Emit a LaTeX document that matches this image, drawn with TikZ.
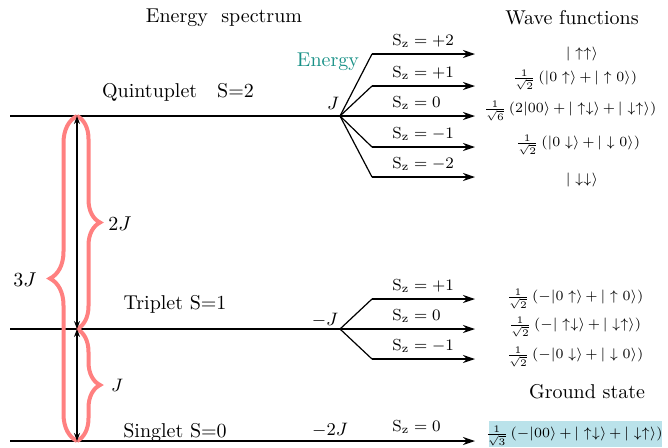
\documentclass[tikz,border=0pt]{standalone}
\usetikzlibrary{arrows.meta,decorations.pathreplacing,positioning}
\definecolor{bracecol}{RGB}{255,128,128}
\definecolor{energycol}{RGB}{25,145,135}
\definecolor{groundcol}{RGB}{186,226,234}
\newcommand\wavefont{\fontsize{7}{9}\selectfont\medmuskip=3mu\relax}
\tikzset{
  level/.style={line width=0.6pt},
  branch/.style={line width=0.6pt,-{Stealth[length=6pt,width=4pt]}},
  gap/.style={line width=0.6pt,{Stealth[length=4pt,width=3pt]}-{Stealth[length=4pt,width=3pt]}},
  splitbrace/.style={decorate,decoration={brace,amplitude=#1},bracecol,line width=2pt},
  szlabel/.style={inner sep=1pt,font=\fontsize{8.5}{10}\selectfont},
  wave/.style={font=\wavefont,inner sep=0pt},
}
\begin{document}
\begin{tikzpicture}[x=0.5pt,y=-0.5pt]
  \useasboundingbox (0,0) rectangle (668,447);
  \node (spec) at (224,18) {Energy~ spectrum};
  \node (wavetitle) at (572,18) {Wave functions};

  % quintuplet S=2
  \coordinate (q0) at (10,116);
  \coordinate (q) at (340,116);
  \draw[level] (q0) -- (q);
  \node (qname) at (178,92) {Quintuplet\ \ \ S=2};
  \node[energycol] (energy) at (328,62) {Energy};
  \node[font=\small] (qJ) at (333,103) {$J$};
  \foreach \y/\s [count=\i] in {54/+2,86/+1,116/0,147/-1,177/-2} {
    \coordinate (qb\i) at (372,\y);
    \coordinate (qe\i) at (475,\y);
    \draw[level] (q) -- (qb\i);
    \draw[branch] (qb\i) -- (qe\i);
    \node[szlabel,above right=2pt and 9pt of qb\i] (qs\i) {$\mathrm{S_z}=\s$};
  }
  \node[wave] (w1) at (582,54) {$|\uparrow\uparrow\rangle$};
  \node[wave] (w2) at (575,80) {$\frac{1}{\sqrt{2}}\,(|0\uparrow\rangle+|\uparrow0\rangle)$};
  \node[wave] (w3) at (570,111) {$\frac{1}{\sqrt{6}}\,(2|00\rangle+|\uparrow\downarrow\rangle+|\downarrow\uparrow\rangle)$};
  \node[wave] (w4) at (578,145) {$\frac{1}{\sqrt{2}}\,(|0\downarrow\rangle+|\downarrow0\rangle)$};
  \node[wave] (w5) at (582,180) {$|\downarrow\downarrow\rangle$};

  % triplet S=1
  \coordinate (t0) at (10,329);
  \coordinate (t) at (340,329);
  \draw[level] (t0) -- (t);
  \node (tname) at (175,304) {Triplet S=1};
  \node[font=\small] (tJ) at (325,320) {$-J$};
  \foreach \y/\s [count=\i] in {299/+1,329/0,359/-1} {
    \coordinate (tb\i) at (372,\y);
    \coordinate (te\i) at (475,\y);
    \draw[level] (t) -- (tb\i);
    \draw[branch] (tb\i) -- (te\i);
    \node[szlabel,above right=2pt and 9pt of tb\i] (ts\i) {$\mathrm{S_z}=\s$};
  }
  \node[wave] (w6) at (575,299) {$\frac{1}{\sqrt{2}}\,(-|0\uparrow\rangle+|\uparrow0\rangle)$};
  \node[wave] (w7) at (575,327) {$\frac{1}{\sqrt{2}}\,(-|\uparrow\downarrow\rangle+|\downarrow\uparrow\rangle)$};
  \node[wave] (w8) at (575,357) {$\frac{1}{\sqrt{2}}\,(-|0\downarrow\rangle+|\downarrow0\rangle)$};

  % singlet S=0
  \coordinate (s0) at (10,441);
  \coordinate (s) at (475,441);
  \draw[branch] (s0) -- (s);
  \node (sname) at (175,432) {Singlet S=0};
  \node[font=\small] (sJ) at (330,430) {$-2J$};
  \node[szlabel,anchor=south west] (ss) at (390,436) {$\mathrm{S_z}=0$};
  \node (ground) at (587,392) {Ground state};
  \fill[groundcol] (489,421) rectangle (662,447);
  \node[wave] (w9) at (574,436) {$\frac{1}{\sqrt{3}}\,(-|00\rangle+|\uparrow\downarrow\rangle+|\downarrow\uparrow\rangle)$};

  % gaps
  \coordinate (a1) at (77,116);
  \coordinate (a2) at (77,329);
  \coordinate (a3) at (77,441);
  \draw[splitbrace=11.5pt] (a1) -- (a2);
  \draw[splitbrace=11.5pt] (a2) -- (a3);
  \draw[splitbrace=13.5pt] (a3) -- (a1);
  \draw[gap] (a1) -- (a2);
  \draw[gap] (a2) -- (a3);
  \node (l2J) at (120,224) {$2J$};
  \node[font=\small] (lJ) at (117,385) {$J$};
  \node (l3J) at (25,280) {$3J$};
\end{tikzpicture}
\end{document}
